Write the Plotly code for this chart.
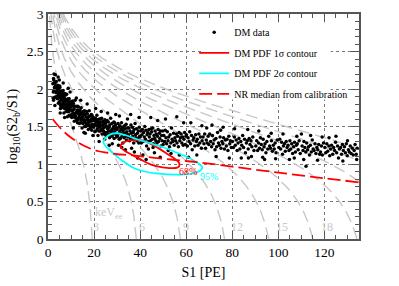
import plotly.graph_objects as go
import numpy as np

# ---------------- data ----------------
# DM data points (S1 [PE], log10(S2b/S1))
dm_low = [
(2.1,2.07),(2.3,1.96),(2.4,2.14),(2.6,1.98),(2.7,2.08),(2.9,1.89),(3.0,2.00),(3.1,2.08),(3.3,1.89),(3.4,2.02),(3.5,1.95),(3.6,2.10),(3.8,1.90),(3.9,2.03),(2.2,1.88),(2.8,2.02),(3.2,2.04),(3.7,1.88),(2.5,2.12),(3.5,1.96),(2.6,2.20),(3.2,2.19),(3.0,1.78),(2.4,1.85),
(4.0,1.97),(4.1,1.87),(4.2,2.05),(4.3,1.90),(4.4,1.99),(4.5,1.81),(4.6,1.93),(4.7,2.01),(4.8,1.82),(4.9,1.95),(5.0,1.89),(5.1,2.04),(5.2,1.84),(5.3,1.97),(5.4,1.74),(5.5,1.90),(5.6,1.93),(5.7,1.80),(5.8,1.97),(5.9,1.86),(4.25,2.00),(4.65,1.88),(5.15,2.02),(5.45,1.78),(5.75,1.90),(4.4,2.16),(5.3,1.68),(4.9,2.12),
(6.0,1.75),(6.1,1.87),(6.2,1.95),(6.3,1.76),(6.4,1.89),(6.5,1.83),(6.6,1.98),(6.7,1.79),(6.8,1.91),(6.9,1.68),(7.0,1.85),(7.1,1.88),(7.2,1.74),(7.3,1.92),(7.4,1.81),(7.5,1.84),(7.6,1.74),(7.7,1.92),(7.8,1.77),(7.9,1.86),(6.35,1.92),(6.85,1.79),(7.35,1.94),(7.85,1.70),(6.6,2.08),(7.2,1.62),
(8.0,1.78),(8.1,1.93),(8.2,1.73),(8.3,1.86),(8.4,1.63),(8.5,1.80),(8.6,1.83),(8.7,1.70),(8.8,1.87),(8.9,1.76),(9.0,1.79),(9.1,1.70),(9.2,1.87),(9.3,1.73),(9.4,1.82),(9.5,1.64),(9.6,1.75),(9.7,1.83),(9.8,1.65),(9.9,1.78),(8.45,1.85),(9.25,1.65),(8.8,2.01),(9.6,1.96),
(10.0,1.72),(10.1,1.81),(10.3,1.62),(10.4,1.77),(10.5,1.67),(10.7,1.84),(10.8,1.72),(10.9,1.63),(11.0,1.81),(11.2,1.67),(11.3,1.73),(11.4,1.57),(11.5,1.76),(11.7,1.62),(11.8,1.85),(11.9,1.68),(12.0,1.64),(12.2,1.77),(12.3,1.58),(12.4,1.69),(12.5,1.61),(12.7,1.72),(12.8,1.55),(12.9,1.77),(10.6,1.71),(11.1,1.78),(11.6,1.66),(12.6,1.70),(12.3,1.88),(11.0,1.48),
(13.0,1.68),(13.1,1.59),(13.2,1.76),(13.4,1.62),(13.5,1.71),(13.6,1.54),(13.7,1.65),(13.9,1.72),(14.0,1.55),(14.1,1.67),(14.2,1.61),(14.4,1.75),(14.5,1.58),(14.6,1.69),(14.8,1.48),(14.9,1.63),(15.0,1.66),(15.1,1.54),(15.3,1.70),(15.4,1.60),(15.5,1.67),(15.7,1.56),(15.8,1.71),(15.9,1.50),(13.3,1.67),(14.7,1.60),(14.2,1.85),(15.6,1.42),
(16.0,1.58),(16.1,1.66),(16.3,1.50),(16.4,1.63),(16.5,1.54),(16.7,1.70),(16.8,1.59),(16.9,1.51),(17.1,1.67),(17.2,1.55),(17.3,1.60),(17.5,1.46),(17.6,1.63),(17.8,1.51),(17.9,1.71),(18.0,1.56),(18.2,1.52),(18.3,1.64),(18.4,1.48),(18.6,1.57),(18.7,1.50),(18.9,1.60),(19.0,1.45),(19.1,1.65),(19.3,1.53),(19.4,1.58),(19.6,1.62),(19.7,1.49),(19.9,1.58),(16.6,1.51),(17.7,1.58),(18.8,1.66),(17.0,1.80),(19.5,1.38),(16.2,1.41),
]
dm_mid = [
(20.0,1.51),(20.2,1.59),(20.3,1.43),(20.5,1.53),(20.6,1.61),(20.8,1.44),(20.9,1.56),(21.1,1.51),(21.2,1.65),(21.4,1.47),(21.5,1.59),(21.7,1.38),(21.8,1.53),(22.0,1.56),(22.1,1.44),(22.3,1.60),(22.4,1.50),(22.6,1.53),(22.7,1.44),(22.9,1.60),(23.0,1.56),(23.2,1.46),(23.3,1.61),(23.5,1.40),(23.6,1.51),(23.8,1.47),(23.9,1.56),(24.1,1.44),(24.2,1.53),(24.4,1.40),(24.5,1.49),(24.7,1.59),(24.8,1.42),(21.0,1.58),(22.5,1.49),(24.0,1.57),(20.7,1.74),(23.1,1.70),(22.2,1.30),(24.6,1.33),
(25.0,1.55),(25.2,1.38),(25.3,1.51),(25.5,1.42),(25.7,1.58),(25.8,1.47),(26.0,1.40),(26.2,1.56),(26.3,1.44),(26.5,1.49),(26.7,1.35),(26.8,1.52),(27.0,1.40),(27.2,1.61),(27.3,1.45),(27.5,1.42),(27.7,1.54),(27.8,1.37),(28.0,1.47),(28.2,1.43),(28.3,1.40),(28.5,1.50),(28.7,1.34),(28.8,1.55),(29.0,1.43),(29.2,1.47),(29.3,1.52),(29.5,1.39),(29.7,1.48),(29.8,1.36),(26.1,1.48),(28.6,1.56),(25.9,1.68),(27.9,1.27),(29.4,1.66),(26.6,1.25),
(30.0,1.46),(30.2,1.37),(30.4,1.54),(30.5,1.40),(30.7,1.49),(30.9,1.33),(31.1,1.43),(31.2,1.51),(31.4,1.34),(31.6,1.46),(31.8,1.41),(31.9,1.55),(32.1,1.37),(32.3,1.49),(32.5,1.28),(32.6,1.44),(32.8,1.47),(33.0,1.35),(33.2,1.51),(33.3,1.41),(33.5,1.47),(33.7,1.37),(33.9,1.53),(34.0,1.32),(34.2,1.43),(34.4,1.39),(34.6,1.48),(34.8,1.36),(31.0,1.64),(33.6,1.19),(34.5,1.60),(32.0,1.22),(30.6,1.25),
(35.0,1.39),(35.2,1.48),(35.4,1.31),(35.6,1.44),(35.8,1.35),(36.0,1.52),(36.2,1.41),(36.4,1.33),(36.6,1.49),(36.8,1.37),(37.0,1.42),(37.2,1.28),(37.4,1.46),(37.6,1.33),(37.8,1.54),(38.0,1.39),(38.2,1.35),(38.4,1.47),(38.6,1.31),(38.8,1.41),(39.0,1.34),(39.2,1.44),(39.4,1.28),(39.6,1.49),(39.8,1.37),(36.9,1.43),(35.9,1.66),(37.5,1.16),(38.9,1.08),(36.3,1.21),(39.5,1.62),
(40.0,1.36),(40.3,1.44),(40.5,1.28),(40.8,1.39),(41.0,1.46),(41.3,1.30),(41.5,1.42),(41.8,1.36),(42.0,1.50),(42.3,1.33),(42.5,1.45),(42.8,1.24),(43.0,1.39),(43.3,1.42),(43.5,1.30),(43.8,1.46),(44.0,1.36),(44.3,1.40),(44.5,1.31),(44.8,1.47),(45.0,1.43),(45.3,1.33),(45.5,1.48),(45.8,1.27),(46.0,1.38),(46.3,1.34),(46.5,1.44),(46.8,1.31),(47.0,1.40),(47.3,1.28),(47.5,1.37),(47.8,1.46),(48.0,1.30),(48.3,1.41),(48.5,1.34),(48.8,1.44),(49.0,1.24),(49.3,1.38),(49.5,1.31),(49.8,1.44),(41.2,1.12),(43.6,1.20),(44.6,1.62),(46.2,1.15),(47.6,1.58),(48.7,1.09),(42.6,1.06),(45.6,1.22),
(50.0,1.26),(50.3,1.38),(50.6,1.30),(50.9,1.45),(51.2,1.35),(51.5,1.27),(51.8,1.43),(52.1,1.31),(52.4,1.36),(52.7,1.23),(53.0,1.39),(53.3,1.28),(53.6,1.48),(53.9,1.33),(54.2,1.30),(54.5,1.41),(54.8,1.25),(55.1,1.35),(55.4,1.31),(55.7,1.40),(56.0,1.28),(56.3,1.37),(56.6,1.23),(56.9,1.42),(57.2,1.31),(57.5,1.35),(57.8,1.40),(58.1,1.28),(58.4,1.36),(58.7,1.25),(59.0,1.33),(59.3,1.42),(59.6,1.26),(59.9,1.37),(51.0,1.60),(53.4,1.14),(55.9,1.63),(57.0,1.12),(58.9,1.55),(52.2,1.18),
]
dm_high = [
(60.1,1.39),(60.5,1.24),(60.8,1.35),(61.2,1.30),(61.5,1.43),(61.9,1.27),(62.3,1.38),(62.6,1.19),(63.0,1.32),(63.3,1.35),(63.7,1.24),(64.1,1.39),(64.4,1.30),(64.8,1.33),(65.1,1.25),(65.5,1.40),(65.9,1.28),(66.2,1.36),(66.6,1.21),(66.9,1.31),(67.3,1.36),(67.7,1.27),(68.0,1.40),(68.4,1.21),(68.7,1.32),(69.1,1.28),(69.5,1.37),(69.8,1.26),(62.0,1.55),(66.8,1.51),(64.6,1.12),(68.9,1.48),(61.0,1.09),
(70.2,1.40),(70.6,1.30),(71.0,1.23),(71.4,1.38),(71.7,1.27),(72.1,1.32),(72.5,1.19),(72.9,1.34),(73.2,1.23),(73.6,1.42),(74.0,1.28),(74.4,1.25),(74.7,1.36),(75.1,1.21),(75.5,1.30),(75.9,1.27),(76.2,1.35),(76.6,1.20),(77.0,1.32),(77.4,1.24),(77.7,1.33),(78.1,1.18),(78.5,1.37),(78.9,1.27),(79.2,1.31),(79.6,1.22),(71.2,1.52),(73.0,1.10),(76.0,1.49),(78.7,1.08),(74.9,1.45),
(80.1,1.30),(80.5,1.22),(80.9,1.36),(81.3,1.25),(81.7,1.32),(82.1,1.18),(82.5,1.28),(82.9,1.34),(83.3,1.20),(83.7,1.30),(84.1,1.25),(84.5,1.38),(84.9,1.22),(85.3,1.33),(85.7,1.15),(86.1,1.28),(86.5,1.31),(86.9,1.20),(87.3,1.34),(87.7,1.26),(88.1,1.31),(88.5,1.23),(88.9,1.36),(89.4,1.18),(81.0,1.47),(83.9,1.08),(86.7,1.46),(88.3,1.10),(87.0,1.08),
(90.2,1.24),(90.6,1.31),(91.0,1.18),(91.4,1.28),(91.8,1.21),(92.2,1.35),(92.6,1.26),(93.0,1.19),(93.4,1.33),(93.8,1.23),(94.2,1.27),(94.6,1.15),(95.0,1.30),(95.4,1.20),(95.8,1.37),(96.2,1.24),(96.6,1.21),(97.0,1.31),(97.4,1.17),(97.8,1.25),(98.2,1.20),(98.6,1.28),(99.0,1.15),(99.5,1.32),(91.5,1.44),(94.0,1.06),(96.9,1.41),(98.8,1.07),(93.2,1.09),
(100.2,1.22),(100.6,1.33),(101.0,1.20),(101.4,1.29),(101.8,1.13),(102.2,1.24),(102.6,1.27),(103.0,1.17),(103.4,1.30),(103.8,1.22),(104.2,1.25),(104.6,1.18),(105.0,1.31),(105.4,1.20),(105.8,1.27),(106.2,1.14),(106.6,1.23),(107.0,1.29),(107.4,1.16),(107.8,1.25),(108.2,1.27),(108.6,1.19),(109.0,1.31),(109.5,1.14),(108.0,1.37),(102.0,1.40),(104.8,1.06),(106.9,1.08),(110.0,1.40),
(110.3,1.24),(110.7,1.18),(111.1,1.30),(111.5,1.22),(111.9,1.16),(112.3,1.28),(112.7,1.19),(113.1,1.23),(113.5,1.12),(113.9,1.25),(114.3,1.16),(114.7,1.32),(115.1,1.20),(115.5,1.18),(115.9,1.27),(116.3,1.14),(116.7,1.22),(117.1,1.19),(117.5,1.26),(117.9,1.13),(118.3,1.16),(118.7,1.24),(119.1,1.12),(119.6,1.28),(112.0,0.97),(114.0,1.38),(117.0,1.05),(119.0,1.36),(111.0,1.06),
(120.2,1.22),(120.6,1.15),(121.0,1.27),(121.4,1.17),(121.9,1.24),(122.3,1.11),(122.7,1.20),(123.1,1.25),(123.6,1.13),(124.0,1.22),(124.4,1.18),(124.8,1.29),(125.3,1.15),(125.7,1.24),(126.1,1.08),(126.5,1.20),(127.0,1.22),(127.4,1.13),(127.8,1.26),(128.2,1.18),(128.7,1.23),(129.1,1.15),(129.5,1.27),(129.9,1.11),(130.4,1.19),(130.8,1.16),(131.2,1.24),(131.6,1.14),(132.1,1.21),(132.5,1.12),(132.9,1.18),(133.3,1.26),(133.8,1.13),(134.2,1.21),(130.0,1.31),(122.0,1.35),(128.0,1.04),(134.0,1.06),(125.0,1.37),
]

# DM PDF 1 sigma contour (red)
c1_s1 = [31.4, 33.0, 35.8, 38.5, 41.6, 45.0, 48.8, 52.0, 54.6, 56.8, 57.0, 56.1, 53.5, 51.7, 48.0, 44.5, 41.5, 38.7, 36.0, 33.6, 32.0, 31.4]
c1_y = [1.24, 1.29, 1.315, 1.32, 1.307, 1.26, 1.195, 1.13, 1.08, 1.02, 0.975, 0.952, 0.945, 0.948, 0.965, 0.995, 1.04, 1.085, 1.13, 1.17, 1.21, 1.24]

# DM PDF 2 sigma contour (cyan)
c2_s1 = [24.0, 25.0, 27.0, 30.0, 34.0, 38.7, 44.0, 50.3, 56.0, 60.0, 63.0, 66.0, 67.0, 66.0, 63.0, 58.0, 52.0, 47.0, 42.0, 37.0, 32.0, 28.0, 25.5, 24.0]
c2_y = [1.29, 1.35, 1.395, 1.41, 1.38, 1.33, 1.28, 1.22, 1.15, 1.10, 1.05, 0.99, 0.95, 0.91, 0.875, 0.858, 0.862, 0.875, 0.90, 0.95, 1.05, 1.15, 1.22, 1.29]

# NR median from calibration (red dashed)
nr_s1 = [2, 5, 8, 11, 14, 18, 22, 26, 30, 35, 41, 50, 58, 66, 80, 100, 120, 135]
nr_y = [1.60, 1.49, 1.40, 1.33, 1.27, 1.21, 1.17, 1.15, 1.13, 1.12, 1.10, 1.07, 1.045, 1.02, 0.965, 0.885, 0.81, 0.755]

# iso-energy guide lines (keVee) and their labels
energies_kev = [3, 6, 9, 12, 15, 18, 21, 24, 27, 30]
w_kev = 0.0137      # work function
g1, g2 = 0.09, 3.15  # gains used for the combined energy scale
energy_labels = ["3", "6", "9", "12", "15", "18"]
energy_label_s1 = [20.7, 41.0, 60.1, 82.0, 101.4, 121.0]
energy_label_y = 0.16

# white box behind the legend (data coordinates)
legend_box_s1 = [66.6, 122.7]
legend_box_y = [1.86, 2.89]

FONT = "Liberation Serif, Times New Roman, DejaVu Serif, serif"
GRAY = "#c8c8c8"

fig = go.Figure()

# iso-energy curves
ygrid = np.linspace(0.0, 3.1, 300)
for e in energies_kev:
    s1 = (e / w_kev) / (1.0 / g1 + 10 ** ygrid / g2)
    fig.add_trace(go.Scatter(x=s1, y=ygrid, mode="lines", showlegend=False,
                             hoverinfo="skip",
                             line=dict(color=GRAY, width=1.4, dash="12px,6px")))

pts = dm_low + dm_mid + dm_high
fig.add_trace(go.Scatter(x=[p[0] for p in pts], y=[p[1] for p in pts], mode="markers",
                         name="DM data", legendgroup="a",
                         marker=dict(color="black", size=3.5)))
fig.add_trace(go.Scatter(x=c1_s1, y=c1_y, mode="lines", name="DM PDF 1σ contour", legendgroup="b",
                         line=dict(color="#ff0000", width=1.8, shape="spline")))
fig.add_trace(go.Scatter(x=c2_s1, y=c2_y, mode="lines", name="DM PDF 2σ contour", legendgroup="c",
                         line=dict(color="#00ffff", width=1.8, shape="spline")))
fig.add_trace(go.Scatter(x=nr_s1, y=nr_y, mode="lines", name="NR median from calibration", legendgroup="d",
                         line=dict(color="#ff0000", width=1.8, dash="13px,5px", shape="spline")))

ann = []
for t, x in zip(energy_labels, energy_label_s1):
    ann.append(dict(x=x, y=energy_label_y, text=t, showarrow=False,
                    font=dict(family=FONT, size=12, color=GRAY)))
ann.append(dict(x=19.7, y=0.35, text="keV<sub>ee</sub>", showarrow=False, xanchor="left",
                font=dict(family=FONT, size=12, color=GRAY)))
ann.append(dict(x=60.7, y=0.90, text="68%", showarrow=False,
                font=dict(family=FONT, size=10, color="#ff0000")))
ann.append(dict(x=69.9, y=0.83, text="95%", showarrow=False,
                font=dict(family=FONT, size=10, color="#00ffff")))

axis_common = dict(showline=True, linecolor="#555555", linewidth=1.5, mirror="ticks",
                   ticks="inside", ticklen=8, tickcolor="#555555", tickwidth=1,
                   showgrid=True, gridcolor="#777777", griddash="dot", gridwidth=1,
                   zeroline=False, automargin=False,
                   tickfont=dict(family=FONT, size=13.5, color="black"))

fig.update_layout(
    width=399, height=286,
    margin=dict(l=48, r=40, t=14, b=47),
    paper_bgcolor="white", plot_bgcolor="white",
    font=dict(family=FONT, size=12, color="black"),
    xaxis=dict(range=[0, 135], dtick=20, tick0=0,
               minor=dict(dtick=5, ticks="inside", ticklen=4, tickcolor="#555555", showgrid=False),
               title=dict(text="S1 [PE]", font=dict(family=FONT, size=14), standoff=8),
               **axis_common),
    yaxis=dict(range=[0, 3], dtick=0.5, tick0=0,
               minor=dict(dtick=0.1, ticks="inside", ticklen=4, tickcolor="#555555", showgrid=False),
               title=dict(text="log<sub>10</sub>(S2<sub>b</sub>/S1)", font=dict(family=FONT, size=14), standoff=6),
               **axis_common),
    shapes=[dict(type="rect", xref="x", yref="y", x0=legend_box_s1[0], x1=legend_box_s1[1],
                 y0=legend_box_y[0], y1=legend_box_y[1], fillcolor="white",
                 line=dict(width=0), layer="above")],
    legend=dict(x=0.47, y=0.983, xanchor="left", yanchor="top", bgcolor="rgba(0,0,0,0)",
                borderwidth=0, tracegroupgap=1.5, font=dict(family=FONT, size=10)),
    annotations=ann,
    showlegend=True,
)

fig.write_html("out.html", config={"displayModeBar": False},
               post_script="document.body.style.margin='0px';")
